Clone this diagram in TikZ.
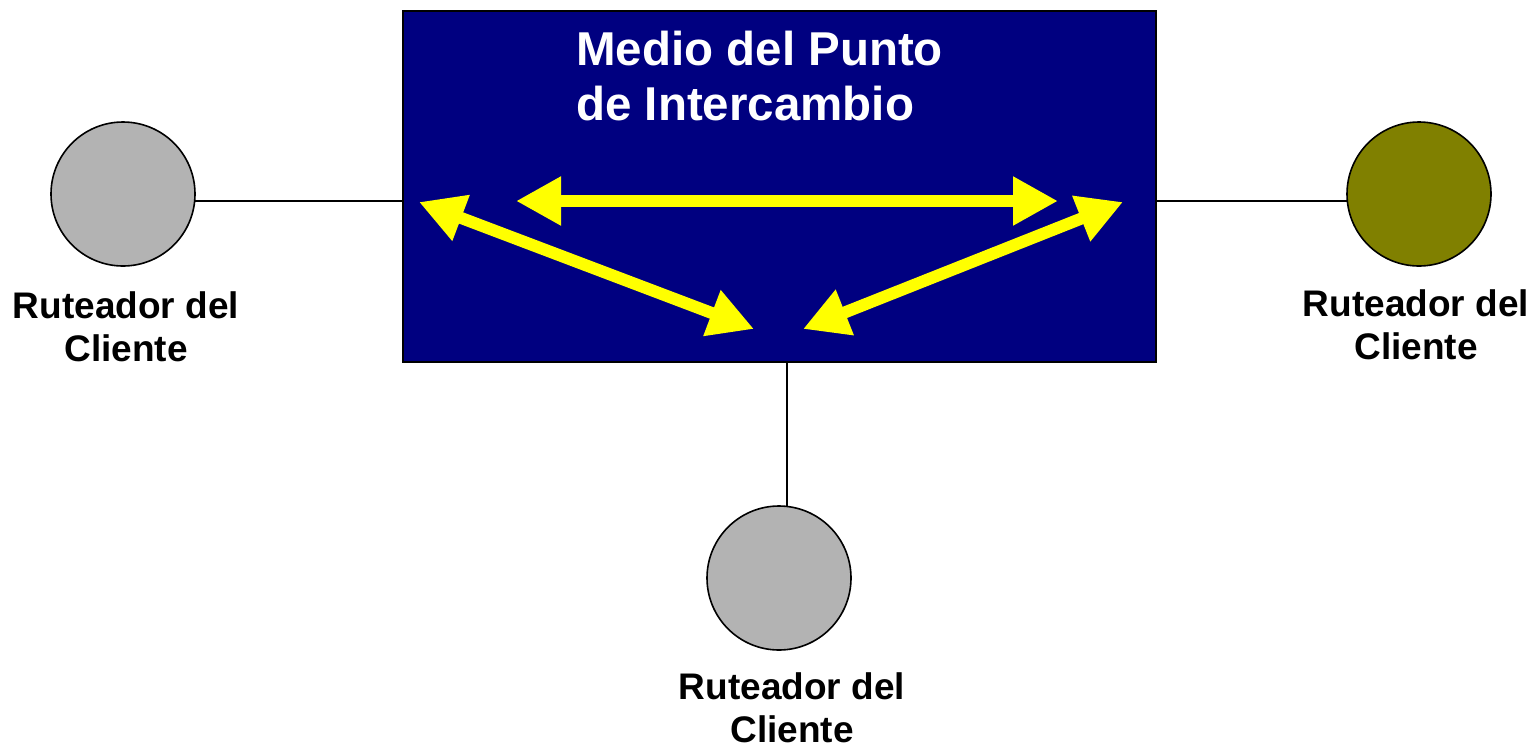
\documentclass[tikz,border=0pt]{standalone}
\usepackage{fontspec}
\setmainfont{Liberation Sans}
\usetikzlibrary{arrows.meta,backgrounds}
\definecolor{navyblue}{HTML}{000080}
\definecolor{ylw}{HTML}{FFFF00}
\definecolor{grayc}{HTML}{B3B3B3}
\definecolor{olivec}{HTML}{808000}
\tikzset{
  router/.style={circle, draw=black, line width=1.6pt, minimum size=144pt, inner sep=0pt},
  lbl/.style={align=center, inner sep=0pt, font=\bfseries\fontsize{37}{43}\selectfont},
  link/.style={draw=black, line width=1.8pt},
  flow/.style={draw=ylw, line width=12pt, {Triangle[length=45pt,width=46pt]}-{Triangle[length=45pt,width=46pt]}}
}
\begin{document}
\begin{tikzpicture}[x=1pt,y=-1pt]
\useasboundingbox (0,0) rectangle (1540,748);
\node[draw=black, line width=1.8pt, fill=navyblue, minimum width=753pt, minimum height=351pt, inner sep=0pt, anchor=north west] (box) at (402,10) {};
\node[anchor=north west, inner sep=0pt, align=left, text=white, font=\bfseries\fontsize{47.5}{55}\selectfont] (title) at (576,31) {Medio del Punto\\de Intercambio};
\node[router, fill=grayc] (lc) at (123,194) {};
\node[router, fill=olivec] (rc) at (1419,194) {};
\node[router, fill=grayc] (bc) at (779,578) {};
\node[lbl] (ll) at (126,327) {Ruteador del\\Cliente};
\node[lbl] (rl) at (1416,325) {Ruteador del\\Cliente};
\node[lbl] (bl) at (792,708) {Ruteador del\\Cliente};
\coordinate (bw) at (402,201);
\coordinate (be) at (1155,201);
\coordinate (bs) at (787,361);
\begin{scope}[on background layer]
\draw[link] (lc.center |- bw) -- (bw);
\draw[link] (rc.center |- be) -- (be);
\draw[link] (bc.center -| bs) -- (bs);
\end{scope}
\coordinate (hL) at (516,201);
\coordinate (hR) at (1058,201);
\coordinate (dL) at (419,202);
\coordinate (dM1) at (754,329);
\coordinate (dR) at (1123,202);
\coordinate (dM2) at (803,329);
\draw[flow] (hL) -- (hR);
\draw[flow] (dL) -- (dM1);
\draw[flow] (dR) -- (dM2);
\end{tikzpicture}
\end{document}
